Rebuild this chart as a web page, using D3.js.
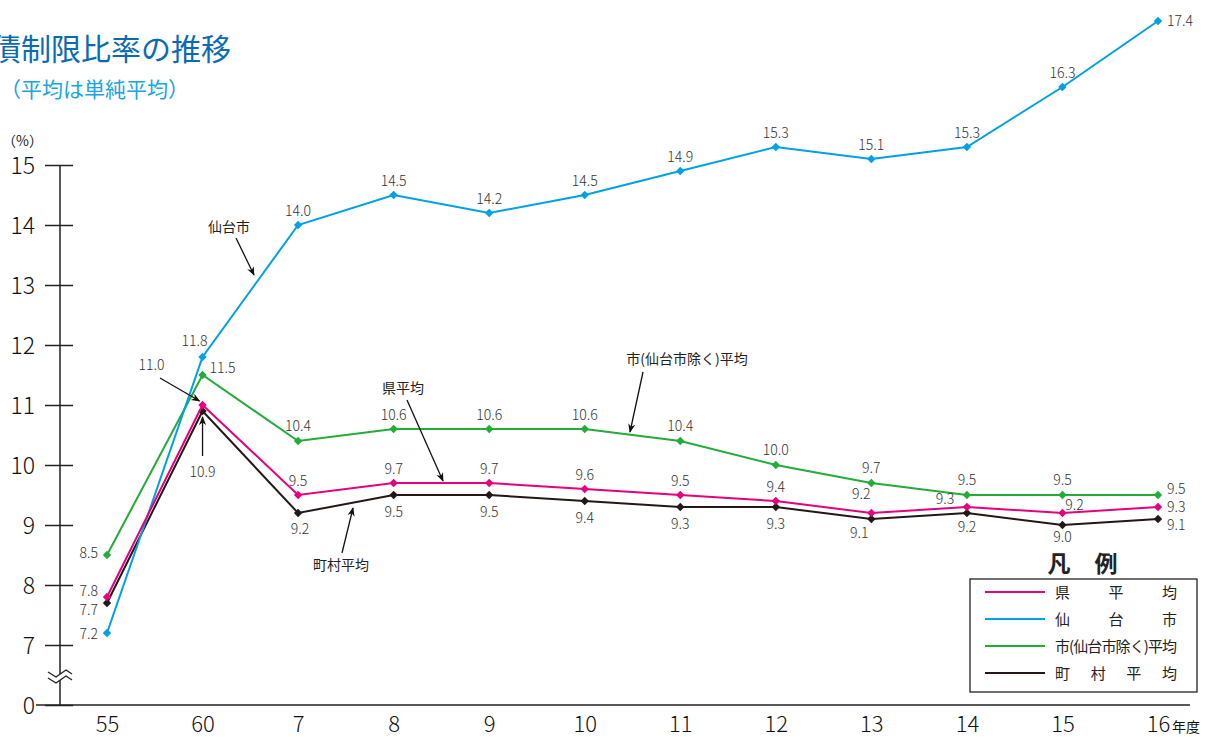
<!DOCTYPE html>
<html lang="ja">
<head>
<meta charset="utf-8">
<script src="https://cdn.jsdelivr.net/npm/d3@7"></script>
<style>
  html, body { margin: 0; padding: 0; background: #fff; }
  svg { display: block; font-family: "Noto Sans CJK JP", "Noto Sans", sans-serif; }
</style>
</head>
<body>
<svg id="chart" width="1214" height="737"></svg>
<script>
// 年度
const years = ["55", "60", "7", "8", "9", "10", "11", "12", "13", "14", "15", "16"];
// 各系列（%）
const kenAvg   = [7.8, 11.0, 9.5, 9.7, 9.7, 9.6, 9.5, 9.4, 9.2, 9.3, 9.2, 9.3];
const sendai   = [7.2, 11.8, 14.0, 14.5, 14.2, 14.5, 14.9, 15.3, 15.1, 15.3, 16.3, 17.4];
const shiAvg   = [8.5, 11.5, 10.4, 10.6, 10.6, 10.6, 10.4, 10.0, 9.7, 9.5, 9.5, 9.5];
const chosonAvg = [7.7, 10.9, 9.2, 9.5, 9.5, 9.4, 9.3, 9.3, 9.1, 9.2, 9.0, 9.1];
const yTicks = [0, 7, 8, 9, 10, 11, 12, 13, 14, 15];
const legendNames = ["県平均", "仙台市", "市(仙台市除く)平均", "町村平均"];

const svg = d3.select("#chart");

// 0〜7 を省略した折れ線スケール
const x = d3.scalePoint().domain(years).range([107, 1158]);
const y = d3.scaleLinear().domain([0, 7, 15]).range([705, 645, 165]);

const series = [
  { name: legendNames[0], values: kenAvg,    color: "#e5007f" },
  { name: legendNames[1], values: sendai,    color: "#00a0e6" },
  { name: legendNames[2], values: shiAvg,    color: "#22ac38" },
  { name: legendNames[3], values: chosonAvg, color: "#231815" }
];

// タイトル
svg.append("text").attr("x", -39).attr("y", 60)
  .attr("font-size", 30).attr("fill", "#0a6ab4")
  .text("起債制限比率の推移");
svg.append("text").attr("x", 0).attr("y", 97)
  .attr("font-size", 21).attr("fill", "#18a5e0")
  .text("（平均は単純平均）");
svg.append("text").attr("x", 2).attr("y", 146)
  .attr("font-size", 14).attr("fill", "#222")
  .text("（%）");

// 縦軸
const yAxis = d3.axisLeft(y).tickValues(yTicks).tickSizeInner(15).tickSizeOuter(0).tickPadding(10);
const gy = svg.append("g").attr("transform", "translate(60,0)").call(yAxis);
gy.select(".domain").remove();
gy.selectAll(".tick line").attr("x1", -15).attr("x2", 13).attr("stroke", "#222").attr("stroke-width", 1.5);
gy.selectAll(".tick text").attr("x", -25).attr("dy", "0.36em")
  .attr("font-size", 23).attr("font-weight", 300).attr("fill", "#111")
  .attr("font-family", "'Noto Sans CJK JP', sans-serif");
svg.append("line").attr("x1", 60).attr("x2", 60).attr("y1", y(15)).attr("y2", y(0))
  .attr("stroke", "#222").attr("stroke-width", 1.5);

// 横軸（基線）
svg.append("line").attr("x1", 36).attr("x2", 1190).attr("y1", y(0)).attr("y2", y(0))
  .attr("stroke", "#222").attr("stroke-width", 1.5);
const gx = svg.append("g").attr("transform", `translate(0,${y(0)})`)
  .call(d3.axisBottom(x).tickSize(0).tickPadding(11));
gx.select(".domain").remove();
gx.selectAll(".tick text").attr("font-size", 22).attr("font-weight", 300).attr("fill", "#111")
  .attr("font-family", "'Noto Sans CJK JP', sans-serif");
// 「年度」
svg.append("text").attr("x", x("16") + 14).attr("y", 732)
  .attr("font-size", 14).attr("fill", "#111").text("年度");

// 省略記号（波線）
const brk = svg.append("g");
const yb = 675;
brk.append("polygon")
  .attr("points", `48,${yb-3} 56,${yb+2} 66,${yb-5} 72,${yb-1} 72,${yb+5} 66,${yb+1} 56,${yb+8} 48,${yb+3}`)
  .attr("fill", "#fff");
brk.append("polyline")
  .attr("points", `48,${yb-3} 56,${yb+2} 66,${yb-5} 72,${yb-1}`)
  .attr("fill", "none").attr("stroke", "#222").attr("stroke-width", 1.3);
brk.append("polyline")
  .attr("points", `48,${yb+3} 56,${yb+8} 66,${yb+1} 72,${yb+5}`)
  .attr("fill", "none").attr("stroke", "#222").attr("stroke-width", 1.3);

// 折れ線と菱形マーカー
const line = d3.line().x((d, i) => x(years[i])).y(d => y(d));
const diamond = "M0,-4.2L4.2,0L0,4.2L-4.2,0Z";
const drawOrder = [3, 2, 1, 0];
drawOrder.forEach(k => {
  const s = series[k];
  const g = svg.append("g");
  g.append("path").datum(s.values).attr("d", line)
    .attr("fill", "none").attr("stroke", s.color).attr("stroke-width", 2);
  g.selectAll("path.pt").data(s.values).join("path").attr("class", "pt")
    .attr("d", diamond)
    .attr("transform", (d, i) => `translate(${x(years[i])},${y(d)})`)
    .attr("fill", s.color);
});

// 数値ラベル（dx, dy: 点からのずれ, a: 揃え）
const labelOffsets = [
  // 県平均
  [[-9, -1, "end"], [-51, -35, "middle"], [0, -9, "middle"], [0, -9, "middle"], [0, -9, "middle"], [0, -9, "middle"],
   [0, -9, "middle"], [0, -9, "middle"], [-10, -14, "middle"], [-22, -3, "middle"], [12, -3, "middle"], [9, 5, "start"]],
  // 仙台市
  [[-9, 6, "end"], [-8, -11, "middle"], [0, -9, "middle"], [0, -9, "middle"], [0, -9, "middle"], [0, -9, "middle"],
   [0, -9, "middle"], [0, -9, "middle"], [0, -9, "middle"], [0, -9, "middle"], [0, -9, "middle"], [9, 5, "start"]],
  // 市(仙台市除く)平均
  [[-9, 3, "end"], [20, -2, "middle"], [0, -10, "middle"], [0, -9, "middle"], [0, -9, "middle"], [0, -9, "middle"],
   [0, -10, "middle"], [0, -10, "middle"], [0, -10, "middle"], [0, -10, "middle"], [0, -10, "middle"], [9, -1, "start"]],
  // 町村平均
  [[-9, 12, "end"], [0, 66, "middle"], [2, 21, "middle"], [0, 22, "middle"], [0, 22, "middle"], [0, 22, "middle"],
   [0, 22, "middle"], [0, 22, "middle"], [-12, 19, "middle"], [0, 19, "middle"], [0, 17, "middle"], [9, 11, "start"]]
];
series.forEach((s, k) => {
  svg.append("g").selectAll("text").data(s.values).join("text")
    .attr("x", (d, i) => x(years[i]) + labelOffsets[k][i][0])
    .attr("y", (d, i) => y(d) + labelOffsets[k][i][1])
    .attr("text-anchor", (d, i) => labelOffsets[k][i][2])
    .attr("font-size", 14).attr("font-weight", 300).attr("fill", "#333")
    .text(d => d.toFixed(1));
});

// 引出線
const defs = svg.append("defs");
defs.append("marker").attr("id", "arr").attr("viewBox", "0 0 10 10")
  .attr("refX", 9).attr("refY", 5).attr("markerWidth", 9).attr("markerHeight", 9)
  .attr("markerUnits", "userSpaceOnUse").attr("orient", "auto")
  .append("path").attr("d", "M0,1 L10,5 L0,9 L3,5 Z").attr("fill", "#111");

const pointer = (x1, y1, x2, y2) => svg.append("line")
  .attr("x1", x1).attr("y1", y1).attr("x2", x2).attr("y2", y2)
  .attr("stroke", "#111").attr("stroke-width", 1.3).attr("marker-end", "url(#arr)");

// 60年度の値
pointer(160, 378, x("60") - 3, y(11.0) - 4);
pointer(x("60"), 456, x("60"), y(10.9) + 6);

// 系列名
const note = (t, cx, cy) => svg.append("text").attr("x", cx).attr("y", cy)
  .attr("text-anchor", "middle").attr("font-size", 14).attr("fill", "#222").text(t);
note(legendNames[1], 229, 232);
pointer(236, 238, 254, 275);
note(legendNames[0], 403, 393);
pointer(407, 400, 443, y(9.7) - 2);
note(legendNames[2], 687, 364);
pointer(643, 372, 630, y(10.55));
note(legendNames[3], 341, 570);
pointer(342, 553, 353, 508);

// 凡例
svg.append("text").attr("x", 1059).attr("y", 572).attr("text-anchor", "middle")
  .attr("font-size", 23).attr("font-weight", "bold").attr("fill", "#222").text("凡");
svg.append("text").attr("x", 1106).attr("y", 572).attr("text-anchor", "middle")
  .attr("font-size", 23).attr("font-weight", "bold").attr("fill", "#222").text("例");
svg.append("rect").attr("x", 970).attr("y", 579).attr("width", 227).attr("height", 113)
  .attr("fill", "#fff").attr("stroke", "#222").attr("stroke-width", 1.3);
series.forEach((s, k) => {
  const ly = 592 + k * 27;
  svg.append("line").attr("x1", 985).attr("x2", 1045).attr("y1", ly).attr("y2", ly)
    .attr("stroke", s.color).attr("stroke-width", 2.2);
  svg.append("text").attr("x", 1055).attr("y", ly + 6)
    .attr("font-size", 15).attr("fill", "#222")
    .attr("textLength", 122).attr("lengthAdjust", "spacing")
    .text(s.name);
});
</script>
</body>
</html>
